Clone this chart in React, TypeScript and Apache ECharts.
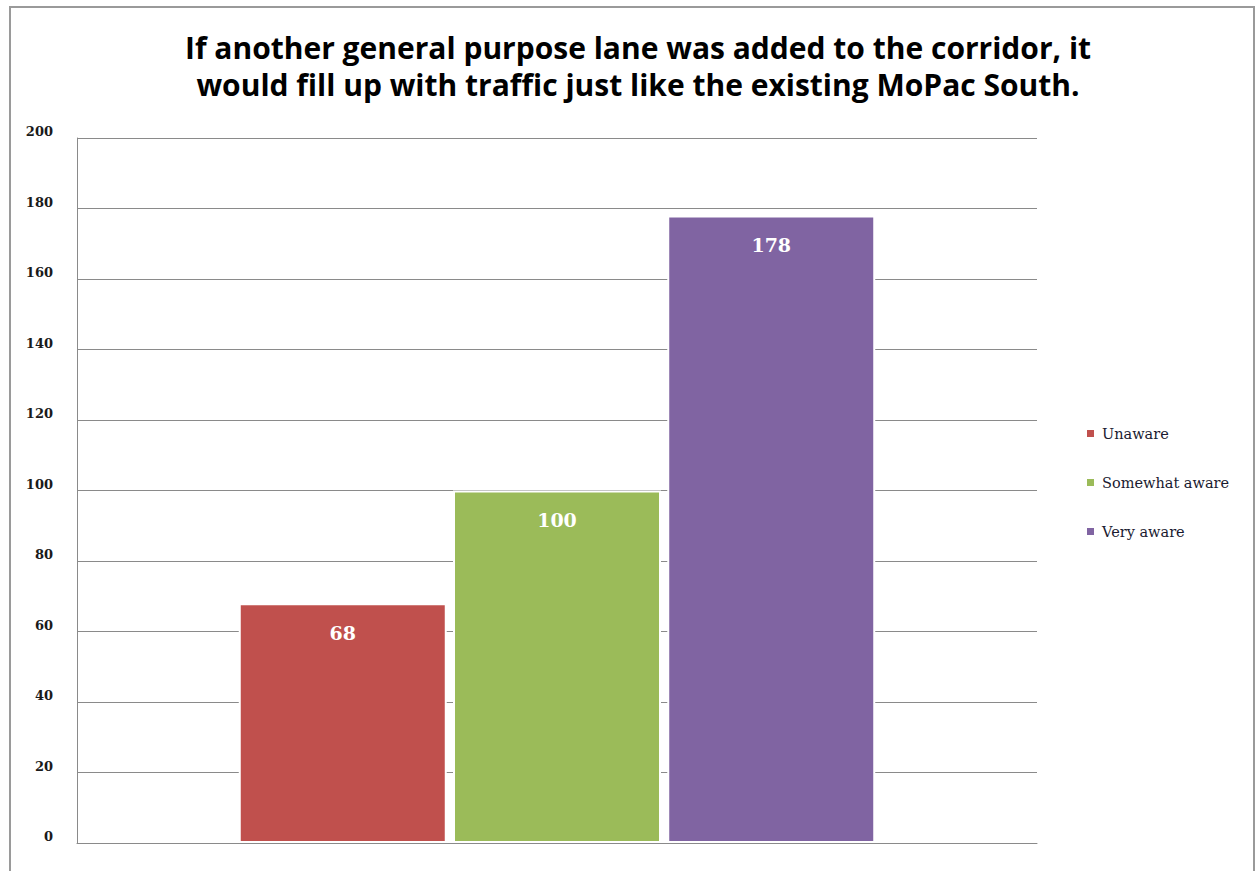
import React, { useEffect, useRef } from "react";
import * as echarts from "echarts";

const titleLines = [
  "If another general purpose lane was added to the corridor, it",
  "would fill up with traffic just like the existing MoPac South.",
];
const categories = [""];
const seriesNames = ["Unaware", "Somewhat aware", "Very aware"];
const seriesValues = [68, 100, 178];
const seriesColors = ["#c0504d", "#9bbb59", "#8064a2"];
const yTicks = { min: 0, max: 200, interval: 20 };

export default function App() {
  const ref = useRef<HTMLDivElement>(null);
  useEffect(() => {
    if (!ref.current) return;
    const chart = echarts.init(ref.current, undefined, { renderer: "svg" });
    chart.setOption({
      animation: false,
      backgroundColor: "#ffffff",
      title: {
        text: titleLines.join("\n"),
        left: 633,
        textAlign: "center",
        top: 24,
        textStyle: {
          fontFamily: "Open Sans",
          fontWeight: "bold",
          fontSize: 30,
          lineHeight: 37,
          color: "#000000",
        },
      },
      graphic: [
        {
          type: "rect",
          shape: { x: 10, y: 7, width: 1244, height: 880 },
          style: { fill: "none", stroke: "#9a9a9a", lineWidth: 2 },
          silent: true,
        },
      ],
      legend: {
        orient: "vertical",
        left: 1080,
        top: 421,
        itemWidth: 9,
        itemHeight: 9,
        itemGap: 34,
        icon: "rect",
        data: seriesNames,
        textStyle: {
          fontFamily: "DejaVu Serif",
          fontSize: 14.5,
          color: "#1a1a30",
          padding: [0, 0, 4, 2],
        },
      },
      grid: { left: 77, right: 219, top: 138, bottom: 28 },
      xAxis: {
        type: "category",
        data: categories,
        axisLine: { show: true, lineStyle: { color: "#8a8a8a", width: 1 } },
        axisTick: { show: false },
        axisLabel: { show: false },
      },
      yAxis: {
        type: "value",
        min: yTicks.min,
        max: yTicks.max,
        interval: yTicks.interval,
        axisLine: { show: true, lineStyle: { color: "#8a8a8a", width: 1 } },
        axisTick: { show: false },
        splitLine: { lineStyle: { color: "#8a8a8a", width: 1 } },
        axisLabel: {
          margin: 24,
          fontFamily: "DejaVu Serif",
          fontWeight: "bold",
          fontSize: 13,
          color: "#1a1a1a",
          verticalAlign: "bottom",
        },
      },
      series: seriesNames.map((name, i) => ({
        name,
        type: "bar",
        data: [seriesValues[i]],
        barWidth: 208,
        barGap: "3%",
        itemStyle: {
          color: seriesColors[i],
          borderColor: "#ffffff",
          borderWidth: 2,
        },
        label: {
          show: true,
          position: "insideTop",
          distance: 20,
          color: "#ffffff",
          fontFamily: "DejaVu Serif",
          fontWeight: "bold",
          fontSize: 19,
        },
      })),
    });
    return () => chart.dispose();
  }, []);
  return (
    <div
      ref={ref}
      style={{ position: "fixed", left: 0, top: 0, width: 1256, height: 871 }}
    />
  );
}
